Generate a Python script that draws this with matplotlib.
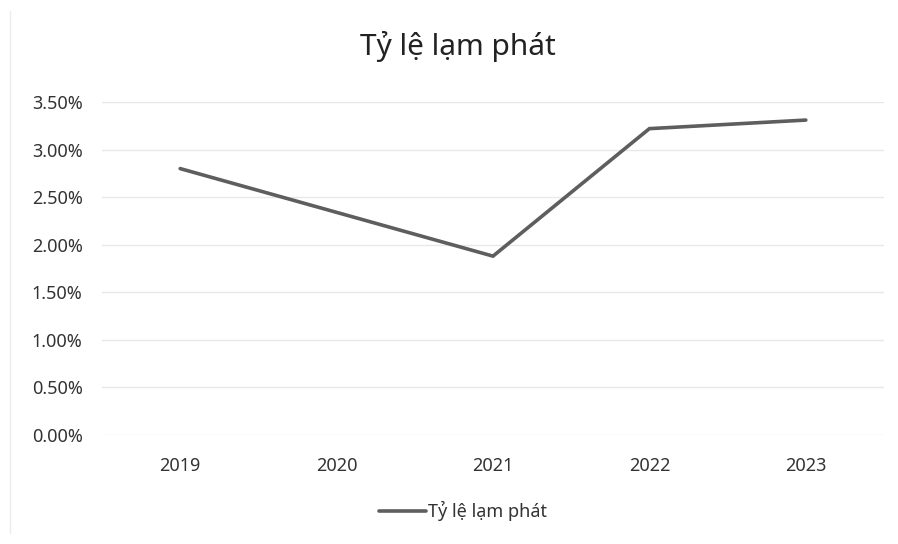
#coding:utf8

import matplotlib.pyplot as plt
from matplotlib.ticker import PercentFormatter

plt.rcParams['font.family'] = ['Noto Sans', 'DejaVu Sans']

# Données (en %)
annees = ["2019", "2020", "2021", "2022", "2023"]
lam_phat = [2.80, 2.34, 1.88, 3.22, 3.31]
ticks_y = [0.0, 0.5, 1.0, 1.5, 2.0, 2.5, 3.0, 3.5]
nom_serie = "Tỷ lệ lạm phát"

fig = plt.figure(figsize=(8.98, 5.44), dpi=100)
ax = fig.add_axes([102/898, 1-435/544, (884-102)/898, (435-102)/544])

x = range(len(annees))
ax.plot(x, lam_phat, color="#5e5e5e", linewidth=2.6, solid_capstyle="round",
        solid_joinstyle="miter", label=nom_serie)

ax.set_xlim(-0.5, len(annees)-0.5)
ax.set_ylim(0, 3.5)
ax.set_yticks(ticks_y)
ax.yaxis.set_major_formatter(PercentFormatter(decimals=2))
ax.set_xticks(list(x))
ax.set_xticklabels(annees)
ax.grid(axis="y", color="#e8e8e8", linewidth=1)
ax.set_axisbelow(True)
for s in ax.spines.values():
    s.set_visible(False)
ax.tick_params(length=0, labelsize=13, colors="#333333")
ax.tick_params(axis="y", pad=14)
ax.tick_params(axis="x", pad=16)

fig.text(458/898, 1-47/544, nom_serie, ha="center", va="center", fontsize=21.5, color="#222222")

fig.legend(loc="center", bbox_to_anchor=(463/898, 1-511/544), frameon=False,
           fontsize=13, handlelength=2.6, handletextpad=0.1,
           labelcolor="#333333")

# bordure gauche du cadre
fig.add_artist(plt.Line2D([10/898, 10/898], [0.02, 0.98], color="#ececec", linewidth=1))

plt.savefig("out.png")
